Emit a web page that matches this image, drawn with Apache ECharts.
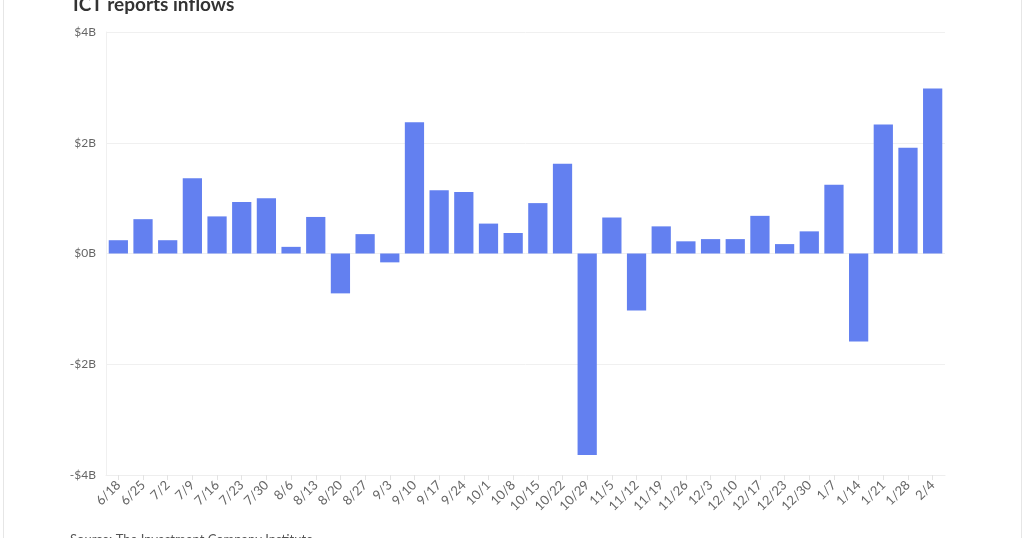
<!DOCTYPE html>
<html>
<head>
<meta charset="utf-8">
<script src="https://cdn.jsdelivr.net/npm/echarts@6/dist/echarts.min.js"></script>
<style>
  html, body { margin: 0; padding: 0; background: #fff; }
  #main { width: 1024px; height: 538px; }
  #frame { position: absolute; left: 3px; top: 0; width: 1017px; height: 538px;
           border-left: 1px solid #e6e6e6; border-right: 1px solid #e6e6e6; pointer-events: none; }
</style>
</head>
<body>
<div id="main"></div>
<div id="frame"></div>
<script>
// weekly inflows, billions of dollars
var weeks = ['6/18', '6/25', '7/2', '7/9', '7/16', '7/23', '7/30', '8/6', '8/13', '8/20',
	'8/27', '9/3', '9/10', '9/17', '9/24', '10/1', '10/8', '10/15', '10/22', '10/29',
	'11/5', '11/12', '11/19', '11/26', '12/3', '12/10', '12/17', '12/23', '12/30', '1/7',
	'1/14', '1/21', '1/28', '2/4'];
var inflows = [0.24, 0.62, 0.24, 1.36, 0.67, 0.93, 1.00, 0.12, 0.66, -0.72,
	0.35, -0.16, 2.37, 1.14, 1.11, 0.54, 0.37, 0.91, 1.62, -3.64,
	0.65, -1.03, 0.49, 0.22, 0.26, 0.26, 0.68, 0.17, 0.40, 1.24,
	-1.59, 2.33, 1.91, 2.98];
var yTicks = [-4, -2, 0, 2, 4];

var chart = echarts.init(document.getElementById('main'));
var option = {
	animation: false,
	textStyle: { fontFamily: 'Lato' },
	title: {
		text: 'ICT reports inflows',
		left: 68,
		top: -10,
		textStyle: { fontSize: 19, fontWeight: 'bold', color: '#333', fontFamily: 'Lato' }
	},
	graphic: [{
		type: 'text',
		left: 70,
		top: 533,
		style: { text: 'Source: The Investment Company Institute', fontSize: 13, fill: '#555', fontFamily: 'Lato' }
	}],
	grid: { left: 106, right: 79, top: 32, bottom: 63 },
	xAxis: {
		type: 'category',
		data: weeks,
		axisLine: { onZero: false, lineStyle: { color: '#eeeeee' } },
		axisTick: { show: true, alignWithLabel: true, length: 5, lineStyle: { color: '#e3e3e3' } },
		axisLabel: { rotate: 45, fontSize: 13, color: '#666', margin: 8 }
	},
	yAxis: {
		type: 'value',
		min: yTicks[0],
		max: yTicks[yTicks.length - 1],
		interval: 2,
		axisLine: { show: true, lineStyle: { color: '#f0f0f0' } },
		axisTick: { show: false },
		splitLine: { lineStyle: { color: '#f0f0f0' } },
		axisLabel: {
			fontSize: 12,
			color: '#666',
			margin: 10,
			formatter: function (v) {
				return v < 0 ? '-$' + Math.abs(v) + 'B' : '$' + v + 'B';
			}
		}
	},
	series: [{
		type: 'bar',
		data: inflows,
		barCategoryGap: '22%',
		itemStyle: { color: '#6380f0' }
	}]
};
chart.setOption(option);
window.onresize = chart.resize;
</script>
</body>
</html>
